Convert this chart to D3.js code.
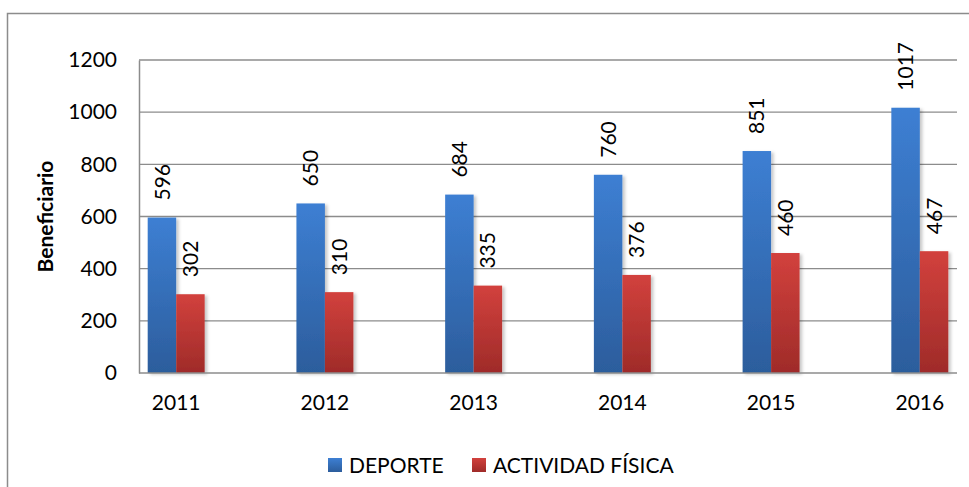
<!DOCTYPE html>
<html>
<head>
<meta charset="utf-8">
<script src="https://cdn.jsdelivr.net/npm/d3@7"></script>
<style>
  html, body { margin: 0; padding: 0; background: #fff; }
  svg { display: block; font-family: Lato, "Liberation Sans", sans-serif; }
</style>
</head>
<body>
<svg id="chart" width="969" height="487"></svg>
<script>
const years = ["2011", "2012", "2013", "2014", "2015", "2016"];
const deporte = [596, 650, 684, 760, 851, 1017];
const actividad = [302, 310, 335, 376, 460, 467];
const seriesNames = ["DEPORTE", "ACTIVIDAD FÍSICA"];
const yTicks = [0, 200, 400, 600, 800, 1000, 1200];

const width = 969;
const height = 487;
const plot = { left: 139, right: 957, top: 60, bottom: 373 };

const svg = d3.select("#chart");

// gradients for the bars
const defs = svg.append("defs");
const grads = [
  { id: "g-blue", top: "#3d7fd3", bottom: "#2c5d9c" },
  { id: "g-red", top: "#d2413d", bottom: "#9f2b29" },
];
grads.forEach((g) => {
  const lg = defs.append("linearGradient").attr("id", g.id).attr("x1", 0).attr("y1", 0).attr("x2", 0).attr("y2", 1);
  lg.append("stop").attr("offset", "0%").attr("stop-color", g.top);
  lg.append("stop").attr("offset", "100%").attr("stop-color", g.bottom);
});
const shadow = defs.append("filter").attr("id", "shadow").attr("x", "-20%").attr("y", "-5%").attr("width", "150%").attr("height", "115%");
shadow.append("feDropShadow").attr("dx", 2.5).attr("dy", 1.5).attr("stdDeviation", 1.8).attr("flood-color", "#000").attr("flood-opacity", 0.22);

// outer frame (cut off at right and bottom like the source)
svg.append("rect")
  .attr("x", 7.5).attr("y", 13.5)
  .attr("width", width + 20).attr("height", height + 20)
  .attr("fill", "none").attr("stroke", "#8c8c8c").attr("stroke-width", 1.5);

const x = d3.scaleBand().domain(years).range([plot.left, plot.right]).paddingInner(0.617).paddingOuter(0.0585);
const xs = d3.scaleBand().domain(seriesNames).range([0, x.bandwidth()]);
const y = d3.scaleLinear().domain([0, 1200]).range([plot.bottom, plot.top]);

// gridlines
svg.append("g")
  .selectAll("line")
  .data(yTicks.filter((d) => d > 0))
  .join("line")
  .attr("x1", plot.left).attr("x2", plot.right)
  .attr("y1", (d) => y(d)).attr("y2", (d) => y(d))
  .attr("stroke", "#8c8c8c").attr("stroke-width", 1.3);

// y axis
const yAxis = svg.append("g")
  .attr("transform", `translate(${plot.left},0)`)
  .call(d3.axisLeft(y).tickValues(yTicks).tickFormat(d3.format("d")).tickSize(0).tickPadding(22));
yAxis.select(".domain").attr("stroke", "#8c8c8c").attr("stroke-width", 1.5);
yAxis.selectAll("text").attr("font-size", 21).attr("fill", "#000").attr("font-family", "Lato, sans-serif");

// bars
const rows = years.map((yr, i) => ({ year: yr, values: [deporte[i], actividad[i]] }));
const groups = svg.append("g")
  .selectAll("g")
  .data(rows)
  .join("g")
  .attr("transform", (d) => `translate(${x(d.year)},0)`);

groups.selectAll("rect")
  .data((d) => d.values.map((v, k) => ({ v, k })))
  .join("rect")
  .attr("x", (d) => xs(seriesNames[d.k]))
  .attr("y", (d) => y(d.v))
  .attr("width", xs.bandwidth())
  .attr("height", (d) => y(0) - y(d.v))
  .attr("fill", (d) => `url(#${grads[d.k].id})`)
  .attr("filter", "url(#shadow)");

// value labels, rotated
groups.selectAll("text")
  .data((d) => d.values.map((v, k) => ({ v, k })))
  .join("text")
  .attr("transform", (d) => `translate(${xs(seriesNames[d.k]) + xs.bandwidth() / 2},${y(d.v) - 17}) rotate(-90)`)
  .attr("dy", "0.36em")
  .attr("text-anchor", "start")
  .attr("font-size", 21)
  .attr("fill", "#000")
  .text((d) => d.v);

// x axis
const xAxis = svg.append("g")
  .attr("transform", `translate(0,${plot.bottom})`)
  .call(d3.axisBottom(x).tickSize(0).tickPadding(22));
xAxis.select(".domain").attr("stroke", "#8c8c8c").attr("stroke-width", 1.5).attr("d", `M${plot.left},0H${plot.right}`);
xAxis.selectAll("text").attr("font-size", 21).attr("fill", "#000").attr("font-family", "Lato, sans-serif");

// axis title
svg.append("text")
  .attr("transform", `translate(45,${(plot.top + plot.bottom) / 2}) rotate(-90)`)
  .attr("text-anchor", "middle")
  .attr("dy", "0.36em")
  .attr("font-size", 21)
  .attr("font-weight", "bold")
  .attr("fill", "#000")
  .text("Beneficiario");

// legend
const legendPos = [328, 472];
const legend = svg.append("g");
seriesNames.forEach((name, k) => {
  const lg = legend.append("g").attr("transform", `translate(${legendPos[k]},458)`);
  lg.append("rect").attr("width", 14).attr("height", 14).attr("fill", `url(#${grads[k].id})`);
  lg.append("text").attr("x", 21).attr("y", 7).attr("dy", "0.36em").attr("font-size", 21).attr("fill", "#000").text(name);
});
</script>
</body>
</html>
